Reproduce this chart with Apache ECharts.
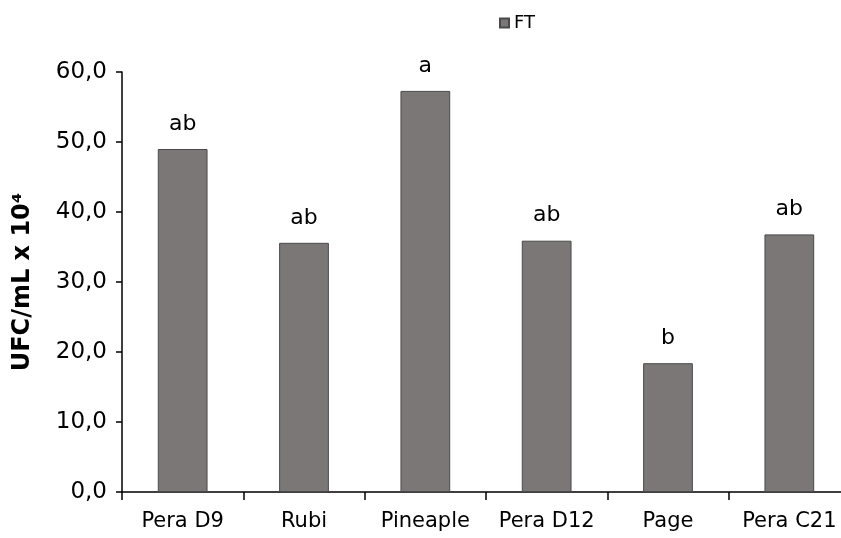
<!DOCTYPE html>
<html>
<head>
<meta charset="utf-8">
<script src="https://cdn.jsdelivr.net/npm/echarts@6/dist/echarts.min.js"></script>
<style>
  html, body { margin: 0; padding: 0; background: #fff; }
  #chart { width: 841px; height: 538px; }
</style>
</head>
<body>
<div id="chart"></div>
<script>
// 品种名称
const categories = ['Pera D9', 'Rubi', 'Pineaple', 'Pera D12', 'Page', 'Pera C21']
// FT 的数值 (UFC/mL x 10^4)
const ftValues = [49.0, 35.6, 57.3, 35.9, 18.4, 36.8]
// 柱子上方的显著性字母
const sigLetters = ['ab', 'ab', 'a', 'ab', 'b', 'ab']
const yTicks = [0, 10, 20, 30, 40, 50, 60]

const chart = echarts.init(document.getElementById('chart'))
const font = 'DejaVu Sans'

const option = {
  animation: false,
  legend: {
    data: ['FT'],
    top: 9,
    left: 494,
    itemWidth: 9,
    itemHeight: 9,
    itemGap: 4,
    icon: 'rect',
    textStyle: { fontFamily: font, fontSize: 18, color: '#000' }
  },
  grid: {
    left: 122,
    top: 72,
    bottom: 46,
    right: -9, // 原图右侧被裁掉一截
    outerBoundsMode: 'none'
  },
  xAxis: {
    type: 'category',
    data: categories,
    axisLine: { lineStyle: { color: '#000', width: 1.5 } },
    axisTick: { show: true, interval: 0, length: 8, lineStyle: { color: '#000', width: 1.5 } },
    axisLabel: { interval: 0, fontFamily: font, fontSize: 21, color: '#000', margin: 19 }
  },
  yAxis: {
    type: 'value',
    min: yTicks[0],
    max: yTicks[yTicks.length - 1],
    interval: 10,
    name: 'UFC/mL x 10⁴',
    nameLocation: 'middle',
    nameGap: 87,
    nameTextStyle: { fontFamily: font, fontSize: 24, fontWeight: 'bold', color: '#000' },
    axisLine: { show: true, lineStyle: { color: '#000', width: 1.5 } },
    axisTick: { show: true, length: 6, lineStyle: { color: '#000', width: 1.5 } },
    axisLabel: {
      fontFamily: font,
      fontSize: 23,
      color: '#000',
      margin: 15,
      formatter: (v) => v.toFixed(1).replace('.', ',')
    },
    splitLine: { show: false }
  },
  series: [
    {
      name: 'FT',
      type: 'bar',
      data: ftValues,
      barWidth: '41%',
      itemStyle: {
        color: '#7b7777',
        borderColor: '#4a4a4a',
        borderWidth: 1
      },
      label: {
        show: true,
        position: 'top',
        distance: 14,
        fontFamily: font,
        fontSize: 22,
        color: '#000',
        formatter: (p) => sigLetters[p.dataIndex]
      }
    }
  ]
}
chart.setOption(option)
</script>
</body>
</html>
